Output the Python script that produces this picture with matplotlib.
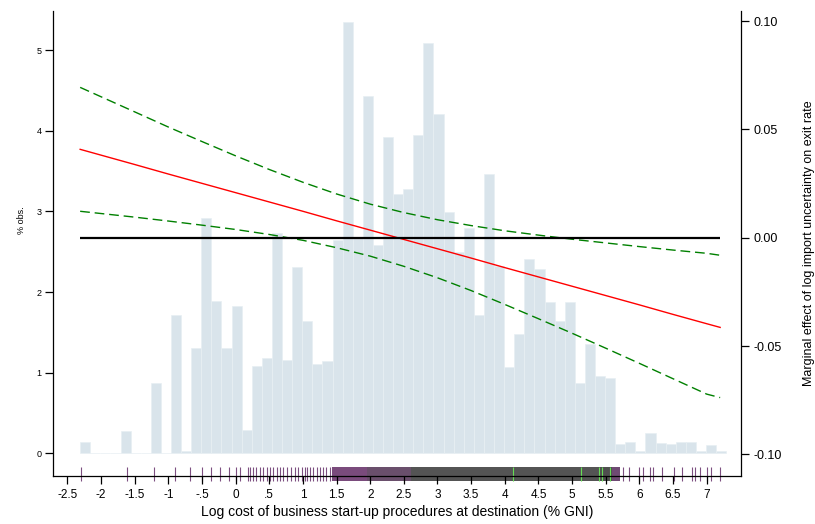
import matplotlib
matplotlib.use("Agg")
import matplotlib.pyplot as plt
import numpy as np

plt.rcParams["font.family"] = ["Liberation Sans", "DejaVu Sans"]

# histogram of destinations (% of obs.), bins of width 0.15 starting at -2.31
bin_start = -2.31
bin_width = 0.15
pct_obs = [0.14, 0, 0, 0, 0.28, 0, 0, 0.87, 0, 1.72,
           0.03, 1.31, 2.92, 1.89, 1.31, 1.83, 0.29, 1.08, 1.18, 2.73,
           1.16, 2.31, 1.64, 1.11, 1.14, 2.65, 5.35, 2.68, 4.43, 2.59,
           3.93, 3.22, 3.28, 3.95, 5.09, 4.21, 2.99, 2.50, 2.79, 1.71,
           3.47, 2.32, 1.07, 1.48, 2.41, 2.29, 1.88, 1.64, 1.88, 0.87,
           1.36, 0.96, 0.93, 0.12, 0.14, 0.03, 0.25, 0.13, 0.11, 0.14,
           0.14, 0.03, 0.10, 0.03]

# marginal effect and 95% band
me_x = [-2.31, -1.5, -1, -0.5, 0, 0.5, 1, 1.5, 2, 2.5,
        3, 3.5, 4, 4.5, 5, 5.5, 6, 6.5, 7, 7.2]
me_est = [0.0408, 0.0338, 0.0294, 0.0251, 0.0208, 0.0165, 0.0122, 0.0078, 0.0035, -0.0008,
          -0.0051, -0.0094, -0.0138, -0.0181, -0.0224, -0.0267, -0.0310, -0.0354, -0.0397, -0.0414]
ci_hi = [0.0694, 0.0581, 0.0511, 0.0444, 0.0378, 0.0315, 0.0256, 0.0202, 0.0155, 0.0116,
         0.0083, 0.0056, 0.0032, 0.0012, -0.0007, -0.0024, -0.0041, -0.0057, -0.0072, -0.0081]
ci_lo = [0.0122, 0.0095, 0.0077, 0.0058, 0.0038, 0.0015, -0.0012, -0.0046, -0.0085, -0.0132,
         -0.0185, -0.0244, -0.0308, -0.0374, -0.0441, -0.0510, -0.0580, -0.0651, -0.0722, -0.0738]

# rug of destination values
rug_pts = [-2.30, -1.61, -1.21, -0.90, -0.68, -0.50, -0.36, -0.23, -0.10, 0.01,
           0.07, 0.18, 0.22, 0.26, 0.31, 0.36, 0.40, 0.46, 0.51, 0.56,
           0.61, 0.66, 0.71, 0.76, 0.83, 0.88, 0.93, 0.98, 1.03, 1.06,
           1.11, 1.15, 1.21, 1.25, 1.30, 1.35, 1.40,
           5.76, 5.84, 6.00, 6.06, 6.16, 6.20, 6.33, 6.51, 6.64, 6.78,
           6.82, 6.90, 7.00, 7.07, 7.20]
rug_green = [4.12, 5.13, 5.40, 5.44, 5.57]
band_from = [1.43, 1.95, 2.60, 5.41, 5.60]
band_to = [1.95, 2.60, 5.41, 5.60, 5.71]
band_col = ["#7a4b7c", "#6a4f6c", "#545454", "#4f4f4f", "#6f4a73"]

xtick_vals = [-2.5, -2, -1.5, -1, -0.5, 0, 0.5, 1, 1.5, 2, 2.5, 3, 3.5, 4, 4.5, 5, 5.5, 6, 6.5, 7]
xtick_txt = ["-2.5", "-2", "-1.5", "-1", "-.5", "0", ".5", "1", "1.5", "2", "2.5", "3",
             "3.5", "4", "4.5", "5", "5.5", "6", "6.5", "7"]
yl_vals = [0, 1, 2, 3, 4, 5]
yr_vals = [-0.10, -0.05, 0.00, 0.05, 0.10]
yr_txt = ["-0.10", "-0.05", "0.00", "0.05", "0.10"]

fig = plt.figure(figsize=(8.15, 5.24), dpi=100)
ax = fig.add_axes([0.0654, 0.0916, 0.8434, 0.888])

lefts = bin_start + bin_width * np.arange(len(pct_obs))
ax.bar(lefts, pct_obs, width=bin_width, align="edge", color="#d9e4eb",
       edgecolor="#e8eff3", linewidth=0.5, zorder=1)

# rug below the bars
ax.vlines(rug_pts, -0.344, -0.166, color="#7d4f80", lw=0.8, clip_on=False, zorder=1)
for x0, x1, c in zip(band_from, band_to, band_col):
    ax.fill_between([x0, x1], -0.344, -0.166, color=c, lw=0, clip_on=False, zorder=1)
ax.vlines(rug_green, -0.344, -0.166, color="#66dd55", lw=0.8, clip_on=False, zorder=1.1)

ax.set_xlim(-2.709, 7.505)
ax.set_ylim(-0.2817, 5.491)
ax.set_xticks(xtick_vals)
ax.set_xticklabels(xtick_txt, fontsize=8.5)
ax.set_yticks(yl_vals)
ax.set_yticklabels([str(v) for v in yl_vals], fontsize=6.5)
ax.tick_params(axis="x", direction="out", length=5.5, width=0.9, pad=4)
ax.tick_params(axis="y", direction="out", length=5.5, width=0.9, pad=3)
for s in ["top", "right"]:
    ax.spines[s].set_visible(False)
for s in ["left", "bottom"]:
    ax.spines[s].set_linewidth(0.9)
ax.set_ylabel("% obs.", fontsize=6.5)
ax.yaxis.set_label_coords(-0.04, 0.55)
ax.set_xlabel("Log cost of business start-up procedures at destination (% GNI)", fontsize=10)
ax.xaxis.set_label_coords(0.5, -0.063)

ax2 = ax.twinx()
ax2.set_ylim(-0.1100, 0.1048)
ax2.plot(me_x, ci_hi, color="#008000", lw=1, dashes=(7, 3.5))
ax2.plot(me_x, ci_lo, color="#008000", lw=1, dashes=(7, 3.5))
ax2.plot(me_x, me_est, color="#ff0000", lw=1)
ax2.hlines(0, me_x[0], me_x[-1], color="black", lw=1.6)
ax2.set_yticks(yr_vals)
ax2.set_yticklabels(yr_txt, fontsize=9)
ax2.tick_params(axis="y", direction="out", length=5.5, width=0.9, pad=4)
for s in ["top", "left", "bottom"]:
    ax2.spines[s].set_visible(False)
ax2.spines["right"].set_linewidth(0.9)
ax2.set_ylabel("Marginal effect of log import uncertainty on exit rate", fontsize=9)
ax2.yaxis.set_label_coords(1.091, 0.5)

fig.savefig("out.png", dpi=100)
